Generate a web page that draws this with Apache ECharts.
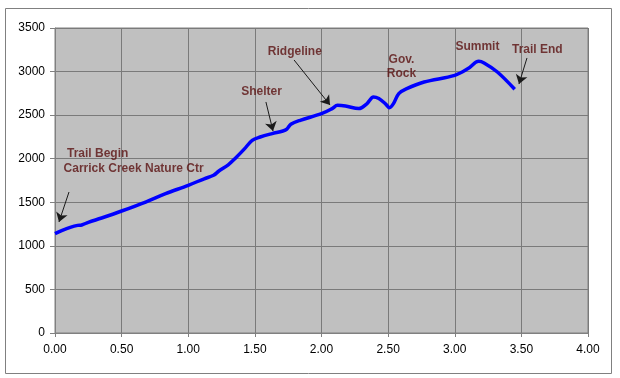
<!DOCTYPE html>
<html>
<head>
    <meta http-equiv="Content-Type" content="text/html; charset=utf-8" />
    <title>Trail elevation profile</title>
    <script src="https://cdn.jsdelivr.net/npm/echarts@6/dist/echarts.min.js"></script>
</head>
<body style="margin:0;padding:0;background:#ffffff;">
    <div id="main" style="width:620px;height:378px;"></div>
    <script type="text/javascript">
        // distance (miles) and elevation (ft) read from the profile
        var dist = [0, 0.05, 0.12, 0.17, 0.20, 0.25, 0.35, 0.50, 0.68, 0.83, 1.00, 1.12, 1.19, 1.23, 1.30, 1.35, 1.42, 1.48, 1.54, 1.63, 1.71, 1.74, 1.77, 1.84, 2.00, 2.08, 2.12, 2.18, 2.28, 2.34, 2.39, 2.43, 2.48, 2.51, 2.54, 2.58, 2.64, 2.77, 3.00, 3.10, 3.18, 3.22, 3.32, 3.45];
        var elev = [1140, 1175, 1215, 1235, 1240, 1270, 1320, 1400, 1503, 1599, 1695, 1770, 1810, 1859, 1930, 2000, 2110, 2211, 2249, 2288, 2318, 2340, 2395, 2441, 2517, 2575, 2613, 2605, 2575, 2630, 2708, 2690, 2630, 2586, 2632, 2747, 2804, 2880, 2957, 3034, 3118, 3099, 2995, 2797];

        // axis ranges
        var xMin = 0, xMax = 4, xStep = 0.5;
        var yMin = 0, yMax = 3500, yStep = 500;

        // annotations: text + arrow (from / to, in data units)
        var noteText = ['Trail Begin', 'Carrick Creek Nature Ctr', 'Shelter', 'Ridgeline', 'Gov.', 'Rock', 'Summit', 'Trail End'];
        var noteX = [0.32, 0.59, 1.55, 1.80, 2.60, 2.60, 3.17, 3.62];
        var noteY = [2060, 1890, 2770, 3230, 3140, 2970, 3280, 3250];
        var arrowFrom = [[0.105, 1618], [1.583, 2651], [1.794, 3133], [3.542, 3156]];
        var arrowTo = [[0.03, 1274], [1.636, 2318], [2.064, 2616], [3.482, 2857]];

        var lineData = [];
        for (var i = 0; i < dist.length; i++) {
            lineData.push([dist[i], elev[i]]);
        }

        var arrowData = [];
        for (var j = 0; j < arrowFrom.length; j++) {
            arrowData.push([{ coord: arrowFrom[j] }, { coord: arrowTo[j] }]);
        }

        var noteData = [];
        for (var k = 0; k < noteText.length; k++) {
            noteData.push({ value: [noteX[k], noteY[k]], name: noteText[k] });
        }

        var chart = echarts.init(document.getElementById('main'));
        var option = {
            animation: false,
            backgroundColor: '#ffffff',
            textStyle: { fontFamily: 'Liberation Sans, Arial, sans-serif' },
            graphic: [{
                type: 'rect',
                shape: { x: 5.5, y: 8.5, width: 606, height: 365 },
                style: { fill: 'none', stroke: '#808080', lineWidth: 1 },
                silent: true
            }],
            grid: {
                left: 55,
                right: 32,
                top: 28,
                bottom: 45,
                show: true,
                backgroundColor: '#c0c0c0',
                borderColor: '#808080',
                borderWidth: 1
            },
            xAxis: {
                type: 'value',
                min: xMin,
                max: xMax,
                interval: xStep,
                axisLine: { show: true, onZero: false, lineStyle: { color: '#808080', width: 1 } },
                axisTick: { show: true, length: 4, lineStyle: { color: '#808080' } },
                splitLine: { show: true, lineStyle: { color: '#7a7a7a', width: 1 } },
                axisLabel: {
                    color: '#000000',
                    fontSize: 12,
                    margin: 11,
                    formatter: function (v) { return v.toFixed(2); }
                }
            },
            yAxis: {
                type: 'value',
                min: yMin,
                max: yMax,
                interval: yStep,
                axisLine: { show: true, lineStyle: { color: '#808080', width: 1 } },
                axisTick: { show: true, length: 5, lineStyle: { color: '#808080' } },
                splitLine: { show: true, lineStyle: { color: '#7a7a7a', width: 1 } },
                axisLabel: {
                    color: '#000000',
                    fontSize: 12,
                    margin: 10,
                    formatter: function (v) { return String(v); }
                }
            },
            series: [
                {
                    type: 'line',
                    data: lineData,
                    smooth: 0.35,
                    showSymbol: false,
                    symbol: 'none',
                    lineStyle: { color: '#0000ff', width: 3.5 },
                    silent: true,
                    z: 3,
                    markLine: {
                        silent: true,
                        symbol: ['none', 'arrow'],
                        symbolSize: 9,
                        label: { show: false },
                        lineStyle: { color: '#1a1a1a', width: 1, type: 'solid' },
                        emphasis: { disabled: true },
                        data: arrowData
                    }
                },
                {
                    type: 'scatter',
                    data: noteData,
                    symbolSize: 0,
                    silent: true,
                    z: 4,
                    label: {
                        show: true,
                        position: 'inside',
                        formatter: '{b}',
                        color: '#5a1010',
                        fontSize: 12,
                        fontWeight: 'bold'
                    }
                }
            ]
        };
        chart.setOption(option);
    </script>
</body>
</html>
